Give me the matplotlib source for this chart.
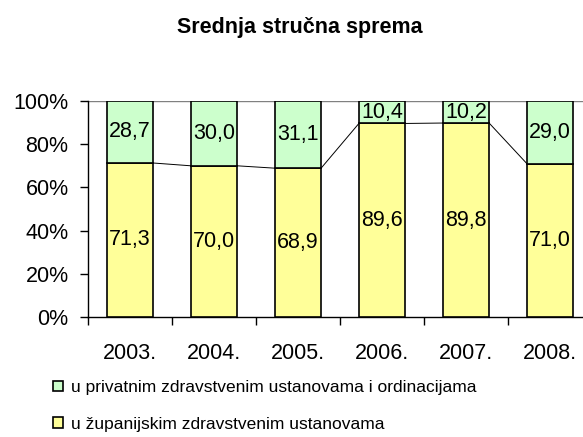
import matplotlib
matplotlib.use("Agg")
import matplotlib.pyplot as plt
from matplotlib.patches import Patch
import numpy as np

plt.rcParams['font.family'] = ['Liberation Sans', 'DejaVu Sans']

years = ["2003.", "2004.", "2005.", "2006.", "2007.", "2008."]
zupanijske = [71.3, 70.0, 68.9, 89.6, 89.8, 71.0]
privatne = [28.7, 30.0, 31.1, 10.4, 10.2, 29.0]
series_labels = ["u privatnim zdravstvenim ustanovama i ordinacijama",
                 "u županijskim zdravstvenim ustanovama"]

yellow = "#FFFF99"
green = "#CCFFCC"

W, H = 583, 437
fig = plt.figure(figsize=(W / 100, H / 100), dpi=100)
ax = fig.add_axes([88 / W, 1 - 317 / H, 504 / W, 216 / H])

x = np.arange(len(years))
bw = 0.55
ax.bar(x, zupanijske, width=bw, color=yellow, edgecolor="black", linewidth=1.2, zorder=3)
ax.bar(x, privatne, width=bw, bottom=zupanijske, color=green, edgecolor="black",
       linewidth=1.2, zorder=3)

# series lines joining the tops of the lower segments
for i in range(len(x) - 1):
    ax.plot([x[i] + bw / 2, x[i + 1] - bw / 2], [zupanijske[i], zupanijske[i + 1]],
            color="black", linewidth=0.7, zorder=2)

fmt = lambda v: f"{v:.1f}".replace(".", ",")
for i in range(len(x)):
    ax.text(x[i], zupanijske[i] / 2, fmt(zupanijske[i]), ha="center", va="center",
            fontsize=15.5, zorder=4)
    ax.text(x[i], zupanijske[i] + privatne[i] / 2, fmt(privatne[i]), ha="center",
            va="center", fontsize=15.5, zorder=4)

ax.set_xlim(-0.5, len(x) - 0.5)
ax.set_ylim(0, 100)
ax.axhline(100, color="#808080", linewidth=1.0, zorder=1)

ax.set_yticks(np.arange(0, 101, 20))
ax.set_yticklabels([f"{v}%" for v in range(0, 101, 20)], fontsize=15.5)
ax.tick_params(axis="y", length=6, width=1, pad=8, direction="out")

ax.set_xticks(np.arange(-0.5, len(x) - 0.4, 1.0))
ax.set_xticklabels([])
ax.set_xticks(x, minor=True)
ax.set_xticklabels(years, minor=True, fontsize=15.5)
ax.tick_params(axis="x", which="major", length=6, width=1, direction="out")
ax.tick_params(axis="x", which="minor", length=0, pad=19)

for s in ["top", "right"]:
    ax.spines[s].set_visible(False)
ax.spines["left"].set_linewidth(1.0)
ax.spines["bottom"].set_linewidth(1.0)

fig.text(300 / W, 1 - 27 / H, "Srednja stručna sprema", ha="center", va="center",
         fontsize=15.5, fontweight="bold")

handles = [Patch(facecolor=green, edgecolor="black", linewidth=1.2),
           Patch(facecolor=yellow, edgecolor="black", linewidth=1.2)]
fig.legend(handles, series_labels, loc="upper left",
           bbox_to_anchor=(53 / W, 1 - 380 / H), frameon=False, fontsize=12.5,
           handlelength=0.55, handleheight=0.55, handletextpad=0.5, labelspacing=1.25,
           borderpad=0, borderaxespad=0)

fig.savefig("out.png", dpi=100)
